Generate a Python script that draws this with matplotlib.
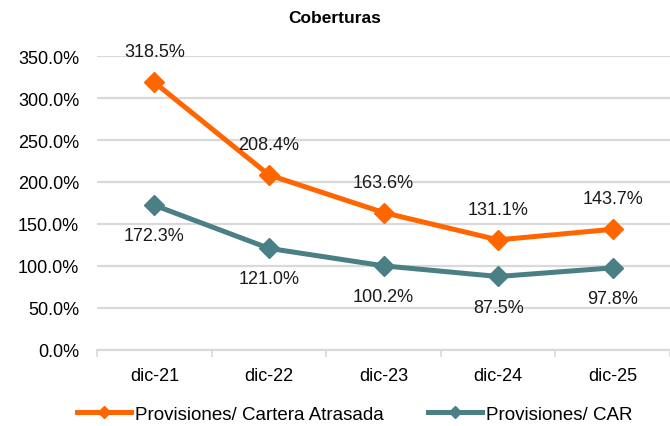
import matplotlib
matplotlib.use("Agg")
import matplotlib.pyplot as plt
import numpy as np

plt.rcParams['font.family'] = ['Liberation Sans', 'DejaVu Sans']

categories = ["dic-21", "dic-22", "dic-23", "dic-24", "dic-25"]
cartera_atrasada = [318.5, 208.4, 163.6, 131.1, 143.7]
car = [172.3, 121.0, 100.2, 87.5, 97.8]
yticks = [0, 50, 100, 150, 200, 250, 300, 350]

orange = "#FF6600"
teal = "#4A7F85"

fig = plt.figure(figsize=(6.7, 4.27), dpi=100)
ax = fig.add_axes([0.145, 0.178, 0.855, 0.6885])

x = np.arange(len(categories))
l1, = ax.plot(x, cartera_atrasada, color=orange, lw=3.6, marker="D", ms=10,
              label="Provisiones/ Cartera Atrasada", solid_joinstyle="round")
l2, = ax.plot(x, car, color=teal, lw=3.6, marker="D", ms=10,
              label="Provisiones/ CAR", solid_joinstyle="round")

for xi, v in zip(x, cartera_atrasada):
    ax.annotate(f"{v:.1f}%", (xi, v), xytext=(0, 22), textcoords="offset points",
                ha="center", va="center", fontsize=13, color="#1a1a1a")
for xi, v in zip(x, car):
    ax.annotate(f"{v:.1f}%", (xi, v), xytext=(0, -22), textcoords="offset points",
                ha="center", va="center", fontsize=13, color="#1a1a1a")

ax.set_xlim(-0.5, len(categories) - 0.5)
ax.set_ylim(0, 350)
ax.set_yticks(yticks)
ax.set_yticklabels([f"{t:.1f}%" for t in yticks], fontsize=13)
ax.set_xticks(x)
ax.set_xticklabels(categories, fontsize=13)
ax.set_xticks(np.arange(-0.5, len(categories) + 0.5, 1), minor=True)
ax.tick_params(axis="x", which="major", length=0, pad=12)
ax.tick_params(axis="x", which="minor", length=5, color="#D9D9D9", width=1.2)
ax.tick_params(axis="y", length=0, pad=13)
ax.grid(axis="y", color="#D9D9D9", lw=1.6)
ax.set_axisbelow(True)
for s in ["top", "right", "left"]:
    ax.spines[s].set_visible(False)
ax.spines["bottom"].set_color("#D9D9D9")
ax.spines["bottom"].set_linewidth(1.6)

fig.text(0.5, 0.957, "Coberturas", ha="center", va="center", fontsize=12.5, fontweight="bold")

fig.legend(handles=[l1, l2], loc="center left", bbox_to_anchor=(0.115, 0.027), ncol=2,
           frameon=False, fontsize=13.5, handlelength=2.9, columnspacing=2.35,
           handletextpad=0.2, markerscale=0.6, borderaxespad=0, borderpad=0)

fig.savefig("out.png", dpi=100)
